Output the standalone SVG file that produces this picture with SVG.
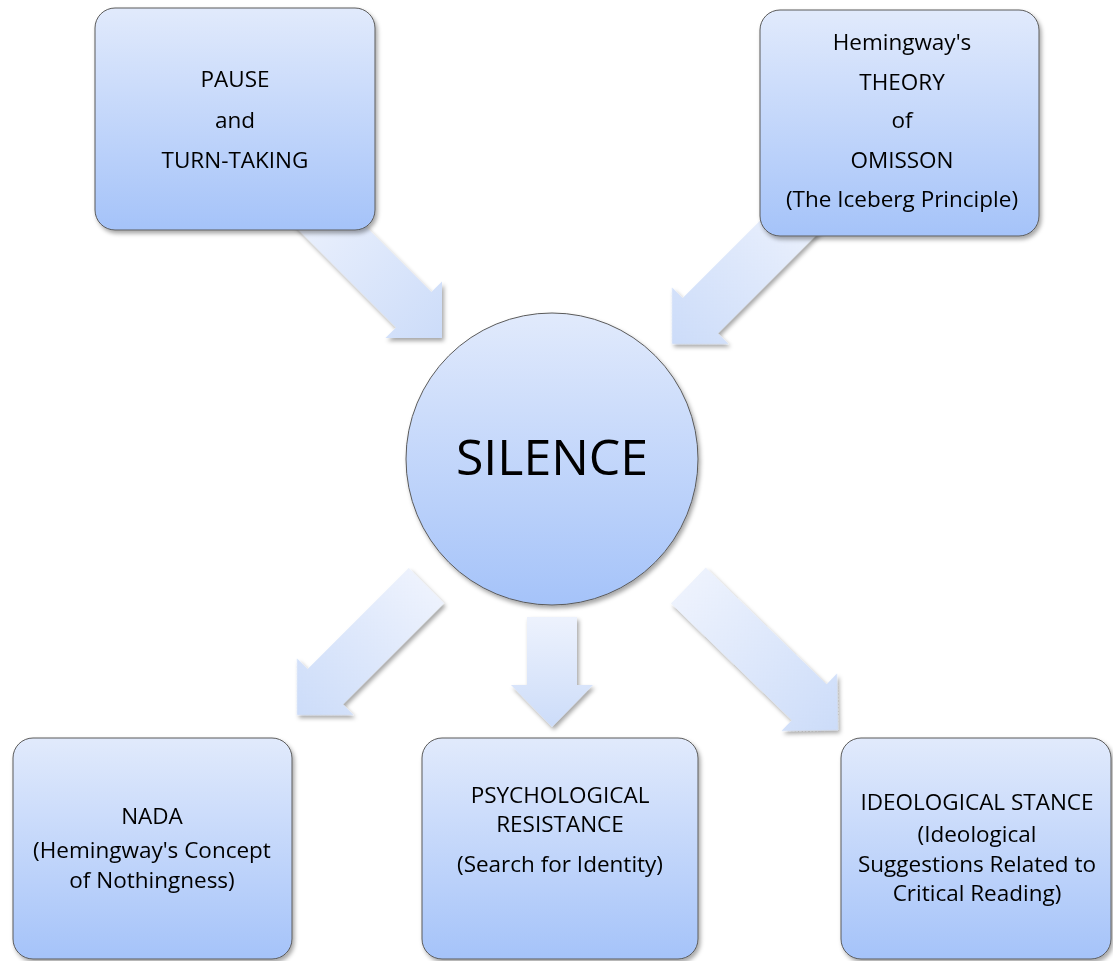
<svg xmlns="http://www.w3.org/2000/svg" width="1113" height="961" viewBox="0 0 1113 961">
  <defs>
    <linearGradient id="fillNode" x1="0" y1="0" x2="0" y2="1">
      <stop offset="0" stop-color="#e1eafc"/>
      <stop offset="1" stop-color="#a5c3f9"/>
    </linearGradient>
    <linearGradient id="fillArrow" x1="0" y1="0" x2="1" y2="0">
      <stop offset="0" stop-color="#edf2fd"/>
      <stop offset="1" stop-color="#ccdcf9"/>
    </linearGradient>
    <filter id="shadow" x="-10%" y="-10%" width="130%" height="130%">
      <feDropShadow dx="2" dy="3" stdDeviation="2" flood-color="#000" flood-opacity="0.35"/>
    </filter>
  </defs>
  <style>
    .box { fill: url(#fillNode); stroke: #5a5a5a; stroke-width: 1; }
    .arrow { fill: url(#fillArrow); stroke: none; }
    .t { font-family: "Open Sans", "Liberation Sans", sans-serif; font-size: 22.5px; fill: #000; text-anchor: middle; }
    .big { font-size: 50px; }
  </style>
  <rect width="1113" height="961" fill="#fff"/>

  <g id="connectors" filter="url(#shadow)">
    <path class="arrow" transform="translate(442,338) rotate(45)" d="M -200,-25 L -40,-25 L -40,-40 L 0,0 L -40,40 L -40,25 L -200,25 Z"/>
    <path class="arrow" transform="translate(672,344) rotate(135)" d="M -200,-25 L -40,-25 L -40,-40 L 0,0 L -40,40 L -40,25 L -200,25 Z"/>
    <path class="arrow" transform="translate(297,715) rotate(135)" d="M -183,-25 L -40,-25 L -40,-40 L 0,0 L -40,40 L -40,25 L -183,25 Z"/>
    <path class="arrow" transform="translate(552,727) rotate(90)" d="M -110,-25 L -42,-25 L -42,-41 L 0,0 L -42,41 L -42,25 L -110,25 Z"/>
    <path class="arrow" transform="translate(838,730) rotate(44)" d="M -208,-25 L -40,-25 L -40,-40 L 0,0 L -40,40 L -40,25 L -208,25 Z"/>
  </g>

  <g id="node-pause" filter="url(#shadow)">
    <rect class="box" x="95" y="8" width="280" height="222" rx="20" ry="20"/>
    <text class="t" x="235" y="87">PAUSE</text>
    <text class="t" x="235" y="128">and</text>
    <text class="t" x="235" y="168">TURN-TAKING</text>
  </g>

  <g id="node-omission" filter="url(#shadow)">
    <rect class="box" x="760" y="10" width="279" height="226" rx="20" ry="20"/>
    <text class="t" x="902" y="50">Hemingway's</text>
    <text class="t" x="902" y="90">THEORY</text>
    <text class="t" x="902" y="128">of</text>
    <text class="t" x="902" y="168">OMISSON</text>
    <text class="t" x="902" y="207">(The Iceberg Principle)</text>
  </g>

  <g id="node-silence" filter="url(#shadow)">
    <circle class="box" cx="552" cy="459" r="146"/>
    <text class="t big" x="552" y="475">SILENCE</text>
  </g>

  <g id="node-nada" filter="url(#shadow)">
    <rect class="box" x="13" y="738" width="279" height="221" rx="20" ry="20"/>
    <text class="t" x="152" y="824">NADA</text>
    <text class="t" x="152" y="858">(Hemingway's Concept</text>
    <text class="t" x="152" y="888">of Nothingness)</text>
  </g>

  <g id="node-psych" filter="url(#shadow)">
    <rect class="box" x="422" y="738" width="276" height="221" rx="20" ry="20"/>
    <text class="t" x="560" y="803">PSYCHOLOGICAL</text>
    <text class="t" x="560" y="832">RESISTANCE</text>
    <text class="t" x="560" y="872">(Search for Identity)</text>
  </g>

  <g id="node-ideology" filter="url(#shadow)">
    <rect class="box" x="841" y="738" width="270" height="221" rx="20" ry="20"/>
    <text class="t" x="977" y="810">IDEOLOGICAL STANCE</text>
    <text class="t" x="977" y="842">(Ideological</text>
    <text class="t" x="977" y="872">Suggestions Related to</text>
    <text class="t" x="977" y="901">Critical Reading)</text>
  </g>
</svg>
